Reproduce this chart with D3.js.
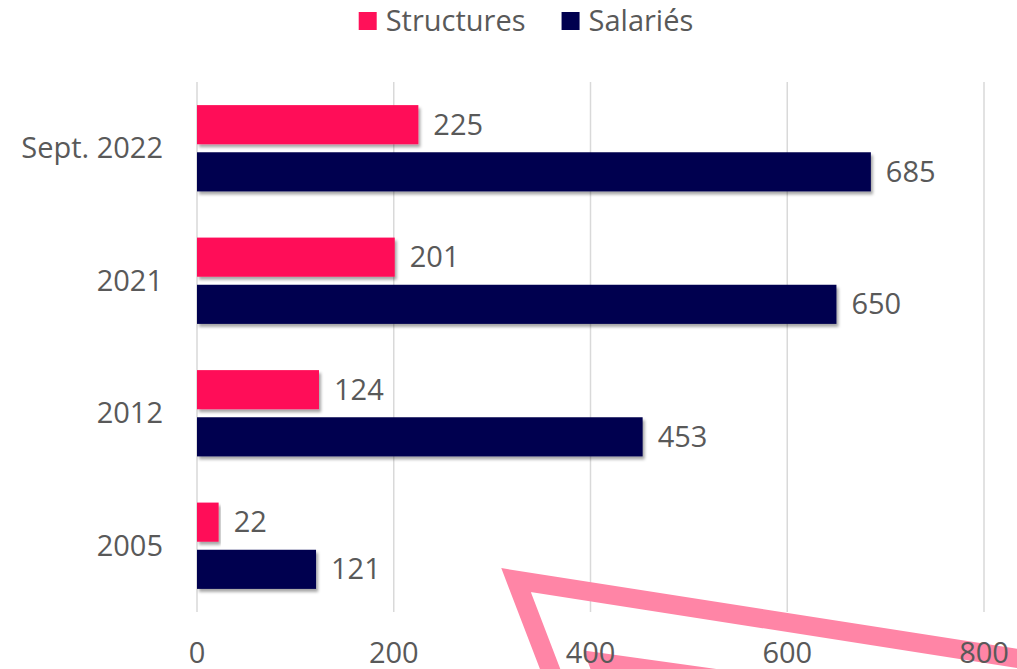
<!DOCTYPE html>
<html>
<head>
<meta charset="utf-8">
<script src="https://cdn.jsdelivr.net/npm/d3@7"></script>
<style>
  body { margin: 0; background: #fff; }
  svg text { font-family: "Open Sans", Lato, sans-serif; fill: #595959; }
</style>
</head>
<body>
<div id="chart"></div>
<script>
// data
const categories = ["Sept. 2022", "2021", "2012", "2005"];
const seriesNames = ["Structures", "Salariés"];
const structures = [225, 201, 124, 22];
const salaries = [685, 650, 453, 121];
const xTicks = [0, 200, 400, 600, 800];
const colors = ["#ff1159", "#00004f"];

const width = 1017, height = 669;
const margin = { top: 82, right: 33, bottom: 57, left: 197 };
const fontSize = 29;

const svg = d3.select("#chart").append("svg")
    .attr("width", width)
    .attr("height", height);

// soft drop shadow under bars
const defs = svg.append("defs");
defs.append("filter").attr("id", "shadow")
    .attr("x", "-5%").attr("y", "-20%").attr("width", "115%").attr("height", "160%")
  .append("feDropShadow")
    .attr("dx", 2).attr("dy", 3).attr("stdDeviation", 1.6)
    .attr("flood-color", "#000").attr("flood-opacity", 0.35);

const x = d3.scaleLinear()
    .domain([0, 800])
    .range([margin.left, width - margin.right]);

const y0 = d3.scaleBand()
    .domain(categories)
    .range([margin.top, height - margin.bottom]);

const y1 = d3.scaleBand()
    .domain(seriesNames)
    .range([0, y0.bandwidth()])
    .paddingInner(0.17)
    .paddingOuter(0.49);

// gridlines
svg.append("g")
  .selectAll("line")
  .data(xTicks)
  .join("line")
    .attr("x1", d => x(d)).attr("x2", d => x(d))
    .attr("y1", margin.top).attr("y2", height - margin.bottom)
    .attr("stroke", "#d9d9d9")
    .attr("stroke-width", 1.5);

// decorative pink outline at the bottom
const deco = svg.append("g")
    .attr("fill", "none")
    .attr("stroke", "#ff85a6")
    .attr("stroke-width", 19)
    .attr("stroke-linejoin", "miter");
deco.append("path").attr("d", "M1040,662 L516,580 L562,700");
deco.append("path").attr("d", "M1040,724 L598,662 L612,700");

// bars
const rows = categories.map((c, i) => ({ cat: c, vals: [structures[i], salaries[i]] }));

const groups = svg.append("g")
  .selectAll("g")
  .data(rows)
  .join("g")
    .attr("transform", d => `translate(0,${y0(d.cat)})`);

const cells = groups.selectAll("g")
  .data(d => d.vals.map((v, j) => ({ key: seriesNames[j], v: v, j: j })))
  .join("g");

cells.append("rect")
    .attr("x", x(0))
    .attr("y", d => y1(d.key))
    .attr("width", d => x(d.v) - x(0))
    .attr("height", y1.bandwidth())
    .attr("fill", d => colors[d.j])
    .attr("filter", "url(#shadow)");

cells.append("text")
    .attr("x", d => x(d.v) + 15)
    .attr("y", d => y1(d.key) + y1.bandwidth() / 2)
    .attr("dy", "0.35em")
    .attr("font-size", fontSize)
    .text(d => d.v);

// category labels
svg.append("g")
  .selectAll("text")
  .data(categories)
  .join("text")
    .attr("x", margin.left - 34)
    .attr("y", d => y0(d) + y0.bandwidth() / 2)
    .attr("dy", "0.35em")
    .attr("text-anchor", "end")
    .attr("font-size", fontSize)
    .text(d => d);

// x axis labels
svg.append("g")
  .selectAll("text")
  .data(xTicks)
  .join("text")
    .attr("x", d => x(d))
    .attr("y", 653)
    .attr("dy", "0.35em")
    .attr("text-anchor", "middle")
    .attr("font-size", fontSize)
    .text(d => d);

// legend
const legend = svg.append("g");
const items = legend.selectAll("g")
  .data(seriesNames)
  .join("g");
items.append("rect")
    .attr("width", 18).attr("height", 18)
    .attr("y", 12)
    .attr("fill", (d, i) => colors[i]);
items.append("text")
    .attr("x", 27)
    .attr("y", 21)
    .attr("dy", "0.35em")
    .attr("font-size", fontSize)
    .text(d => d);
let lx = 0;
items.each(function () {
  d3.select(this).attr("transform", `translate(${lx},0)`);
  lx += this.getBBox().width + 36;
});
const legendW = lx - 36;
legend.attr("transform", `translate(${526 - legendW / 2},0)`);
</script>
</body>
</html>
